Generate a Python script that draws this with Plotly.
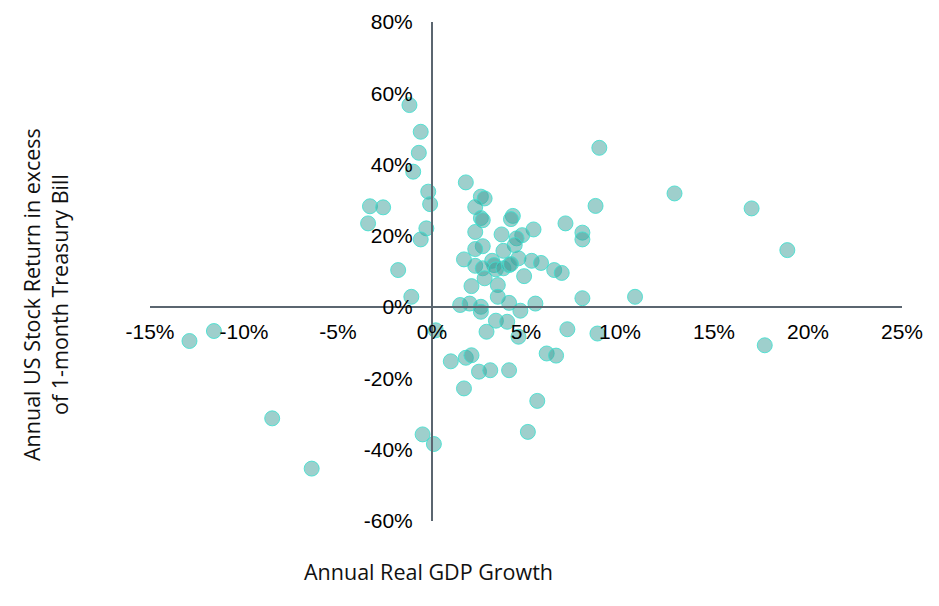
import plotly.graph_objects as go

# Annual real GDP growth (%) and excess stock return (%)
gdp_growth = [
    -12.9, -11.6, -8.5, -6.4, -3.4, -3.3, -2.6, -1.8, -1.1, -1.2,
    -0.6, -0.7, -1.0, -0.2, -0.1, -0.3, -0.6, -0.5, 0.1, 0.2,
    1.8, 2.6, 2.8, 2.3, 2.6, 2.7, 2.3, 4.3, 4.2, 3.7,
    5.4, 4.8, 4.5, 4.4, 2.7, 2.3, 3.8, 1.7, 2.3, 3.2,
    3.3, 4.6, 5.3, 5.8, 2.7, 3.4, 3.8, 4.1, 4.2, 6.5,
    6.9, 4.9, 2.8, 2.1, 3.5, 3.5, 1.5, 2.0, 2.6, 2.6,
    4.1, 4.7, 5.5, 3.4, 4.0, 2.9, 7.2, 8.8, 4.6, 6.1,
    6.6, 1.0, 1.8, 2.1, 2.5, 3.1, 4.1, 1.7, 5.6, 5.1,
    7.1, 8.0, 8.0, 8.7, 8.9, 8.0, 10.8, 12.9, 17.0, 18.9,
    17.7,
]
excess_return = [
    -9.5, -6.7, -31.2, -45.3, 23.5, 28.3, 28.0, 10.4, 2.9, 56.7,
    49.2, 43.3, 38.0, 32.4, 28.9, 22.1, 19.0, -35.7, -38.4, -6.5,
    35.0, 31.0, 30.5, 28.1, 25.0, 24.4, 21.1, 25.6, 24.7, 20.4,
    21.8, 20.2, 19.3, 17.4, 17.1, 16.3, 15.8, 13.4, 11.6, 13.0,
    11.8, 13.7, 13.0, 12.4, 10.9, 10.6, 10.9, 11.8, 12.1, 10.4,
    9.6, 8.7, 8.1, 5.9, 6.2, 2.9, 0.6, 1.0, 0.1, -1.3,
    1.2, -1.0, 1.0, -3.8, -4.1, -6.9, -6.2, -7.4, -8.3, -13.0,
    -13.6, -15.2, -14.2, -13.5, -18.1, -17.7, -17.7, -22.8, -26.3, -35.0,
    23.5, 20.9, 19.0, 28.4, 44.7, 2.5, 2.9, 31.9, 27.7, 16.0,
    -10.7,
]

x_ticks = [-15, -10, -5, 0, 5, 10, 15, 20, 25]
y_ticks = [-60, -40, -20, 0, 20, 40, 60, 80]
x_range = [-15, 25]
y_range = [-60, 80]

fig = go.Figure()
fig.add_trace(go.Scatter(
    x=gdp_growth, y=excess_return, mode="markers",
    marker=dict(size=15, color="rgba(61,159,153,0.5)",
                line=dict(color="rgba(64,224,208,0.85)", width=1)),
    showlegend=False, hoverinfo="x+y",
))

axis_color = "#5b6670"
tick_font = dict(family="Liberation Sans, Arial, sans-serif", size=21, color="#000000")
title_font = dict(family="Open Sans, sans-serif", size=21.5, color="#111111")

x_pos = (0 - y_range[0]) / (y_range[1] - y_range[0])
y_pos = (0 - x_range[0]) / (x_range[1] - x_range[0])

fig.update_layout(
    width=931, height=598,
    margin=dict(l=142, r=37, t=14, b=85, autoexpand=False),
    paper_bgcolor="white", plot_bgcolor="white",
    xaxis=dict(range=x_range, tickvals=x_ticks, ticktext=[f"{v}%" for v in x_ticks],
               showgrid=False, zeroline=False, showline=True, linecolor=axis_color,
               linewidth=2, anchor="free", position=x_pos, ticks="", automargin=False,
               ticklabelstandoff=6, tickfont=tick_font),
    yaxis=dict(range=y_range, tickvals=y_ticks, ticktext=[f"{v}%" for v in y_ticks],
               showgrid=False, zeroline=False, showline=True, linecolor=axis_color,
               linewidth=2, anchor="free", position=y_pos, ticks="", automargin=False,
               ticklabelstandoff=14, tickfont=tick_font),
    annotations=[
        dict(text="Annual Real GDP Growth", xref="paper", yref="paper",
             x=(428 - 150) / 752, y=(521 - 571) / 499, xanchor="center", yanchor="middle",
             showarrow=False, font=title_font),
        dict(text="Annual US Stock Return in excess<br>of 1-month Treasury Bill",
             xref="paper", yref="paper", x=(45 - 150) / 752, y=(521 - 295) / 499,
             xanchor="center", yanchor="middle", textangle=-90, showarrow=False,
             font=title_font),
    ],
)

fig.write_html("out.html")
